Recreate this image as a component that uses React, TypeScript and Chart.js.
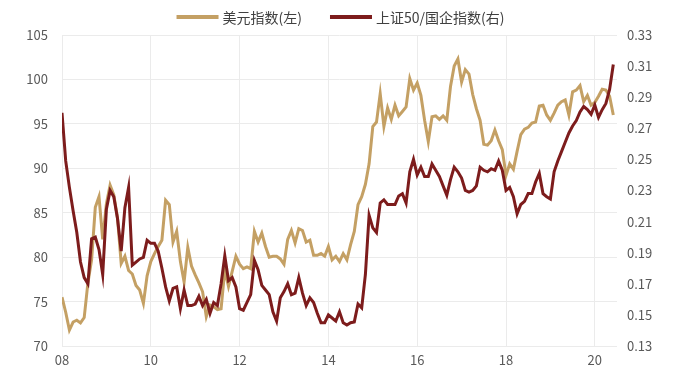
import React, { useEffect, useRef } from 'react';
import { Chart, registerables } from 'chart.js';

Chart.register(...registerables);

// Monthly data, first point = Jan 2008
const startYear = 2008;

const usdIndex = [
  75.5, 73.8, 71.8, 72.7, 72.9, 72.6, 73.2, 77.1, 79.7, 85.6, 86.8, 82.0,
  86.0, 88.1, 87.0, 84.4, 79.3, 80.1, 78.5, 78.1, 76.8, 76.3, 74.8, 77.9,
  79.5, 80.4, 81.2, 81.9, 86.4, 85.9, 81.7, 82.9, 79.5, 77.2, 81.1, 79.0,
  78.0, 77.1, 76.1, 73.3, 74.6, 74.4, 74.1, 74.2, 78.6, 76.7, 78.4, 80.1,
  79.2, 78.7, 78.9, 78.7, 82.9, 81.7, 82.7, 81.2, 80.0, 80.1, 80.1, 79.8,
  79.2, 82.0, 83.0, 81.6, 83.2, 83.0, 81.7, 81.9, 80.2, 80.2, 80.4, 80.1,
  81.2, 79.7, 80.1, 79.5, 80.4, 79.7, 81.4, 82.9, 85.9, 86.8, 88.2, 90.5,
  94.7, 95.2, 98.4, 94.7, 96.8, 95.5, 97.1, 95.9, 96.4, 96.9, 100.1, 98.8,
  99.6, 98.2, 95.4, 93.0, 95.8, 95.9, 95.5, 95.9, 95.4, 99.2, 101.5, 102.3,
  99.7, 101.1, 100.6, 98.3, 96.7, 95.4, 92.7, 92.6, 93.1, 94.3, 93.1, 92.1,
  89.2, 90.5, 89.9, 91.9, 93.8, 94.4, 94.6, 95.1, 95.2, 97.0, 97.1, 96.0,
  95.4, 96.2, 97.1, 97.5, 97.7, 96.0, 98.6, 98.8, 99.3, 97.5, 98.2, 97.1,
  97.4, 98.1, 98.9, 98.8, 98.1, 96.0,
];

const sseRatio = [
  0.280, 0.249, 0.232, 0.217, 0.203, 0.184, 0.174, 0.170, 0.199, 0.200, 0.192, 0.176,
  0.218, 0.230, 0.226, 0.212, 0.191, 0.219, 0.232, 0.182, 0.184, 0.186, 0.187, 0.198,
  0.196, 0.196, 0.191, 0.180, 0.168, 0.159, 0.167, 0.168, 0.154, 0.166, 0.156, 0.156,
  0.157, 0.162, 0.156, 0.160, 0.151, 0.158, 0.156, 0.170, 0.188, 0.172, 0.174, 0.168,
  0.154, 0.153, 0.158, 0.163, 0.185, 0.179, 0.169, 0.166, 0.163, 0.152, 0.146, 0.161,
  0.165, 0.170, 0.163, 0.164, 0.174, 0.164, 0.156, 0.161, 0.158, 0.151, 0.145, 0.145,
  0.150, 0.148, 0.146, 0.152, 0.145, 0.1435, 0.145, 0.1455, 0.157, 0.1545, 0.176, 0.214,
  0.206, 0.203, 0.222, 0.224, 0.221, 0.221, 0.221, 0.2265, 0.228, 0.222, 0.242, 0.250,
  0.240, 0.245, 0.239, 0.239, 0.247, 0.243, 0.239, 0.233, 0.227, 0.237, 0.245, 0.242,
  0.238, 0.230, 0.229, 0.230, 0.233, 0.245, 0.243, 0.242, 0.244, 0.243, 0.249, 0.243,
  0.230, 0.232, 0.226, 0.215, 0.221, 0.223, 0.228, 0.228, 0.2355, 0.241, 0.228, 0.226,
  0.2245, 0.242, 0.249, 0.255, 0.261, 0.267, 0.2715, 0.275, 0.2805, 0.284, 0.282, 0.279,
  0.285, 0.277, 0.282, 0.286, 0.295, 0.311,
];

const xTickYears = [2008, 2010, 2012, 2014, 2016, 2018, 2020];
const seriesNames = ['美元指数(左)', '上证50/国企指数(右)'];

const GOLD = '#C4A064';
const RED = '#7D1C1C';
const GRID = '#EBEBEB';
const TICK = '#595959';
const FONT = "'Noto Sans CJK SC', 'Noto Sans', sans-serif";

// Legend drawn by a small Chart.js plugin, from the datasets' own labels/colours
const topLegend = {
  id: 'topLegend',
  afterDraw(chart: any) {
    const ctx = chart.ctx;
    const swatchW = 42;
    const swatchH = 4;
    const gapText = 4;
    const gapItem = 28;
    const y = 17;
    ctx.save();
    ctx.font = `14px ${FONT}`;
    const items = chart.data.datasets.map((d: any) => ({
      text: d.label,
      color: d.borderColor,
      w: swatchW + gapText + ctx.measureText(d.label).width,
    }));
    const total = items.reduce((s: number, it: any) => s + it.w, 0) + gapItem * (items.length - 1);
    let x = chart.width / 2 - total / 2 + 2;
    ctx.textBaseline = 'middle';
    ctx.textAlign = 'left';
    for (const it of items) {
      ctx.fillStyle = it.color;
      ctx.fillRect(x, y - swatchH / 2, swatchW, swatchH);
      ctx.fillStyle = '#404040';
      ctx.fillText(it.text, x + swatchW + gapText, y + 1);
      x += it.w + gapItem;
    }
    ctx.restore();
  },
};

export default function App() {
  const ref = useRef<HTMLCanvasElement>(null);

  useEffect(() => {
    document.body.style.margin = '0';
    const canvas = ref.current;
    if (!canvas) return;
    const usdPts = usdIndex.map((v, i) => ({ x: startYear + i / 12, y: v }));
    const ratioPts = sseRatio.map((v, i) => ({ x: startYear + i / 12, y: v }));

    const chart = new Chart(canvas, {
      type: 'line',
      data: {
        datasets: [
          {
            label: seriesNames[0],
            data: usdPts,
            borderColor: GOLD,
            backgroundColor: GOLD,
            borderWidth: 3,
            pointRadius: 0,
            tension: 0,
            yAxisID: 'y',
            order: 1,
          },
          {
            label: seriesNames[1],
            data: ratioPts,
            borderColor: RED,
            backgroundColor: RED,
            borderWidth: 3,
            pointRadius: 0,
            tension: 0,
            yAxisID: 'y1',
            order: 0,
          },
        ],
      },
      options: {
        responsive: false,
        animation: false,
        layout: { padding: { top: 35, left: 0, right: 0, bottom: 0 } },
        plugins: {
          tooltip: { enabled: false },
          legend: { display: false },
        },
        scales: {
          x: {
            type: 'linear',
            min: 2008,
            max: 2020.5,
            afterBuildTicks: (s: any) => {
              s.ticks = xTickYears.map((v) => ({ value: v }));
            },
            afterFit: (s: any) => {
              s.height = 45;
            },
            ticks: {
              color: TICK,
              padding: 6,
              font: { family: FONT, size: 13 },
              maxRotation: 0,
              callback: (v: any) => String(v).slice(2),
            },
            grid: { color: GRID, lineWidth: 1, drawTicks: false },
            border: { display: false },
          },
          y: {
            position: 'left',
            min: 70,
            max: 105,
            afterFit: (s: any) => {
              s.width = 62;
            },
            ticks: {
              stepSize: 5,
              color: TICK,
              padding: 14,
              font: { family: FONT, size: 13 },
            },
            grid: { color: GRID, lineWidth: 1, drawTicks: false },
            border: { display: false },
          },
          y1: {
            position: 'right',
            min: 0.13,
            max: 0.33,
            afterFit: (s: any) => {
              s.width = 60;
            },
            ticks: {
              stepSize: 0.02,
              color: TICK,
              padding: 10,
              font: { family: FONT, size: 13 },
              callback: (v: any) => Number(v).toFixed(2),
            },
            grid: { display: false, drawTicks: false },
            border: { display: false },
          },
        },
      },
      plugins: [topLegend],
    });
    return () => chart.destroy();
  }, []);

  return <canvas ref={ref} width={677} height={391} style={{ display: 'block' }} />;
}
